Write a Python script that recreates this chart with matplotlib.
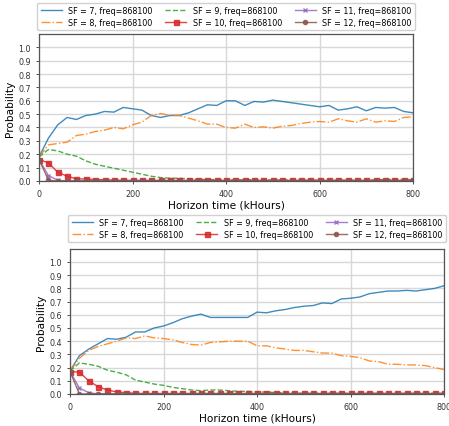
import matplotlib
matplotlib.use("Agg")
import matplotlib.pyplot as plt

# horizon time (kHours), one sample every 20 kHours
horizon = [0, 20, 40, 60, 80, 100, 120, 140, 160, 180,
           200, 220, 240, 260, 280, 300, 320, 340, 360, 380,
           400, 420, 440, 460, 480, 500, 520, 540, 560, 580,
           600, 620, 640, 660, 680, 700, 720, 740, 760, 780,
           800]

labels = ["SF = 7, freq=868100", "SF = 8, freq=868100", "SF = 9, freq=868100",
          "SF = 10, freq=868100", "SF = 11, freq=868100", "SF = 12, freq=868100"]

# ---- top panel
top_sf7 = [0.18, 0.32, 0.42, 0.475, 0.46, 0.49, 0.50, 0.52, 0.515, 0.55,
           0.54, 0.53, 0.49, 0.475, 0.49, 0.49, 0.51, 0.54, 0.57, 0.565,
           0.60, 0.60, 0.565, 0.595, 0.59, 0.605, 0.595, 0.585, 0.575, 0.565,
           0.555, 0.565, 0.53, 0.54, 0.555, 0.525, 0.55, 0.545, 0.55, 0.52,
           0.51]
top_sf8 = [0.18, 0.27, 0.28, 0.29, 0.34, 0.35, 0.37, 0.38, 0.40, 0.39,
           0.42, 0.44, 0.49, 0.505, 0.49, 0.49, 0.47, 0.45, 0.425, 0.425,
           0.40, 0.395, 0.425, 0.40, 0.405, 0.395, 0.41, 0.415, 0.43, 0.44,
           0.445, 0.44, 0.465, 0.45, 0.44, 0.465, 0.44, 0.45, 0.445, 0.475,
           0.48]
top_sf9 = [0.18, 0.235, 0.225, 0.20, 0.185, 0.15, 0.125, 0.11, 0.095, 0.08,
           0.065, 0.05, 0.035, 0.025, 0.02, 0.02, 0.015, 0.012, 0.01, 0.01,
           0.008, 0.008, 0.008, 0.01, 0.008, 0.006, 0.006, 0.006, 0.005, 0.005,
           0.005, 0.005, 0.005, 0.005, 0.005, 0.006, 0.008, 0.01, 0.012, 0.01,
           0.01]
top_sf10 = [0.16, 0.135, 0.065, 0.035, 0.015, 0.015, 0.01, 0.008, 0.006, 0.005,
            0.004, 0.004, 0.004, 0.004, 0.004, 0.004, 0.004, 0.004, 0.004, 0.004,
            0.004, 0.004, 0.004, 0.004, 0.004, 0.004, 0.004, 0.004, 0.004, 0.004,
            0.004, 0.004, 0.004, 0.004, 0.004, 0.004, 0.004, 0.004, 0.004, 0.004,
            0.004]
top_sf11 = [0.16, 0.04, 0.005, 0.0, 0.0, 0.0, 0.0, 0.0, 0.0, 0.0,
            0.0, 0.0, 0.0, 0.0, 0.0, 0.0, 0.0, 0.0, 0.0, 0.0,
            0.0, 0.0, 0.0, 0.0, 0.0, 0.0, 0.0, 0.0, 0.0, 0.0,
            0.0, 0.0, 0.0, 0.0, 0.0, 0.0, 0.0, 0.0, 0.0, 0.0,
            0.0]
top_sf12 = [0.16, 0.005, 0.0, 0.0, 0.0, 0.0, 0.0, 0.0, 0.0, 0.0,
            0.0, 0.0, 0.0, 0.0, 0.0, 0.0, 0.0, 0.0, 0.0, 0.0,
            0.0, 0.0, 0.0, 0.0, 0.0, 0.0, 0.0, 0.0, 0.0, 0.0,
            0.0, 0.0, 0.0, 0.0, 0.0, 0.0, 0.0, 0.0, 0.0, 0.0,
            0.0]

# ---- bottom panel
bot_sf7 = [0.175, 0.29, 0.34, 0.38, 0.42, 0.415, 0.43, 0.47, 0.47, 0.50,
           0.515, 0.54, 0.57, 0.59, 0.605, 0.58, 0.58, 0.58, 0.58, 0.58,
           0.62, 0.615, 0.63, 0.64, 0.655, 0.665, 0.67, 0.69, 0.685, 0.72,
           0.725, 0.735, 0.76, 0.77, 0.78, 0.78, 0.785, 0.78, 0.79, 0.80,
           0.82]
bot_sf8 = [0.175, 0.27, 0.33, 0.36, 0.38, 0.40, 0.425, 0.42, 0.44, 0.425,
           0.42, 0.41, 0.39, 0.375, 0.37, 0.39, 0.395, 0.40, 0.40, 0.40,
           0.365, 0.365, 0.35, 0.34, 0.33, 0.33, 0.32, 0.31, 0.31, 0.29,
           0.285, 0.275, 0.25, 0.245, 0.225, 0.225, 0.22, 0.22, 0.215, 0.20,
           0.185]
bot_sf9 = [0.175, 0.235, 0.225, 0.21, 0.18, 0.165, 0.145, 0.105, 0.09, 0.075,
           0.065, 0.05, 0.04, 0.03, 0.025, 0.03, 0.03, 0.025, 0.02, 0.02,
           0.015, 0.015, 0.01, 0.008, 0.006, 0.005, 0.005, 0.005, 0.005, 0.005,
           0.005, 0.005, 0.005, 0.005, 0.005, 0.005, 0.005, 0.005, 0.005, 0.005,
           0.005]
bot_sf10 = [0.17, 0.165, 0.10, 0.055, 0.03, 0.015, 0.01, 0.005, 0.004, 0.004,
            0.004, 0.004, 0.004, 0.004, 0.004, 0.004, 0.004, 0.004, 0.004, 0.004,
            0.004, 0.004, 0.004, 0.004, 0.004, 0.004, 0.004, 0.004, 0.004, 0.004,
            0.004, 0.004, 0.004, 0.004, 0.004, 0.004, 0.004, 0.004, 0.004, 0.004,
            0.004]
bot_sf11 = [0.17, 0.045, 0.01, 0.0, 0.0, 0.0, 0.0, 0.0, 0.0, 0.0,
            0.0, 0.0, 0.0, 0.0, 0.0, 0.0, 0.0, 0.0, 0.0, 0.0,
            0.0, 0.0, 0.0, 0.0, 0.0, 0.0, 0.0, 0.0, 0.0, 0.0,
            0.0, 0.0, 0.0, 0.0, 0.0, 0.0, 0.0, 0.0, 0.0, 0.0,
            0.0]
bot_sf12 = [0.17, 0.0, 0.0, 0.0, 0.0, 0.0, 0.0, 0.0, 0.0, 0.0,
            0.0, 0.0, 0.0, 0.0, 0.0, 0.0, 0.0, 0.0, 0.0, 0.0,
            0.0, 0.0, 0.0, 0.0, 0.0, 0.0, 0.0, 0.0, 0.0, 0.0,
            0.0, 0.0, 0.0, 0.0, 0.0, 0.0, 0.0, 0.0, 0.0, 0.0,
            0.0]

STYLES = [dict(color="#1f77b4", ls="-"),
          dict(color="#ff7f0e", ls="-."),
          dict(color="#2ca02c", ls="--"),
          dict(color="#d62728", ls="-", marker="s", ms=3.6),
          dict(color="#9467bd", ls="-", marker="x", ms=3),
          dict(color="#8c564b", ls="-", marker="o", ms=3)]


def draw(ax, series, anchor_y):
    for ys, lab, st in zip(series, labels, STYLES):
        ax.plot(horizon, ys, label=lab, lw=1.0, alpha=0.85, **st)
    ax.set_xlim(0, 800)
    ax.set_ylim(0, 1.1)
    ax.set_xticks([0, 200, 400, 600, 800])
    ax.set_yticks([i / 10 for i in range(11)])
    ax.grid(True, color="#d8d8d8", lw=1.0)
    ax.set_axisbelow(True)
    ax.tick_params(labelsize=5.8, colors="#333333", length=2.5, width=0.6)
    for s in ax.spines.values():
        s.set_color("#555555")
        s.set_linewidth(0.9)
    ax.set_xlabel("Horizon time (kHours)", fontsize=7.6, labelpad=1)
    ax.set_ylabel("Probability", fontsize=7.6, labelpad=2)
    ax.legend(loc="lower center", bbox_to_anchor=(0.5, anchor_y), ncol=3,
              fontsize=5.8, frameon=True, framealpha=0.9, edgecolor="#cccccc",
              borderpad=0.4, handlelength=2.6, columnspacing=1.6,
              labelspacing=0.4, borderaxespad=0.0)


fig = plt.figure(figsize=(4.49, 4.27), dpi=100)
ax1 = fig.add_axes([0.087, 0.574, 0.833, 0.344])
ax2 = fig.add_axes([0.156, 0.075, 0.833, 0.340])

draw(ax1, [top_sf7, top_sf8, top_sf9, top_sf10, top_sf11, top_sf12], 1.025)
draw(ax2, [bot_sf7, bot_sf8, bot_sf9, bot_sf10, bot_sf11, bot_sf12], 1.045)

fig.savefig("out.png", dpi=100)
